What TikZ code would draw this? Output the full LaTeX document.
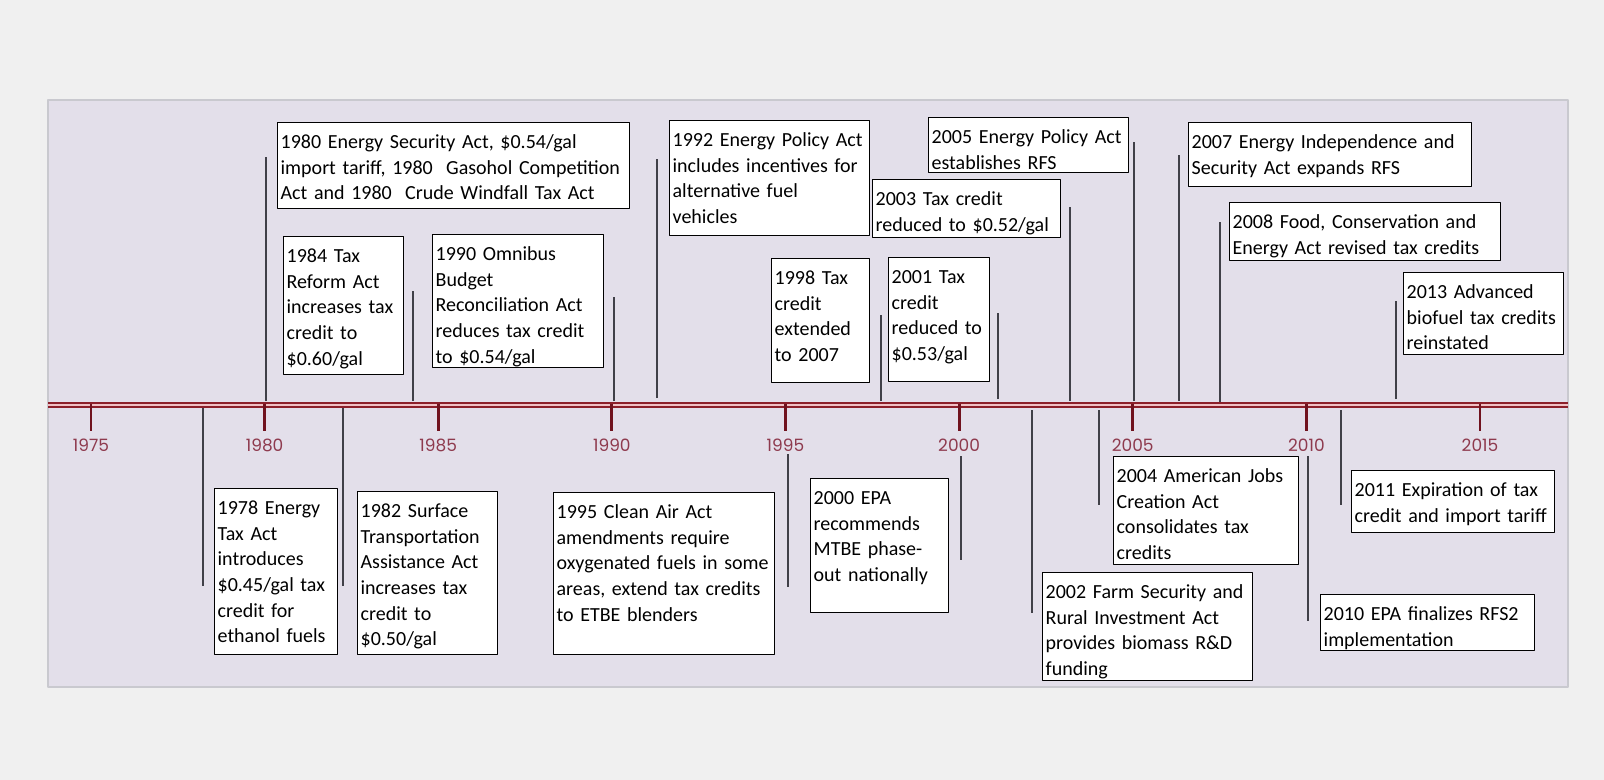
\documentclass[tikz,border=0pt]{standalone}
\usepackage{fontspec}
\setmainfont{Carlito}
\newfontfamily\yearfont{Poppins}
\definecolor{bggray}{HTML}{F0F0F0}
\definecolor{panel}{HTML}{E3DFEA}
\definecolor{panelline}{HTML}{C9C9CF}
\definecolor{linered}{HTML}{8C1F2A}
\definecolor{linepink}{HTML}{F0C0C4}
\definecolor{tickred}{HTML}{70121E}
\definecolor{yearred}{HTML}{8E3A4E}
\definecolor{stemgray}{HTML}{404048}
\begin{document}
\begin{tikzpicture}[x=0.5pt, y=-0.5pt, line join=round,
	evbox/.style={draw=black, line width=0.65pt, fill=white, anchor=north west, align=left,
		inner xsep=1.5pt, inner ysep=2pt, text height=11pt, font=\fontsize{10}{12.8}\selectfont},
	stem/.style={draw=stemgray, line width=0.8pt},
	yeartick/.style={draw=tickred, line width=1.4pt},
	yearlabel/.style={text=yearred, inner sep=0pt, font=\yearfont\fontsize{8.5}{10}\selectfont}]
	%%%%%%%%%%%%%%%%%%%%%%%%%%%%%%%%%
	\useasboundingbox (0,0) rectangle (1604,780);
	\fill[bggray] (0,0) rectangle (1604,780);
	\filldraw[fill=panel, draw=panelline, line width=0.6pt] (48,100) rectangle (1568,687);
	%%%%%%%%%%%%%%%%%%%%%%%%%%%%%%%%%
	\coordinate (L) at (48,405);
	\coordinate (R) at (1568,405);
	%%%%%%%%%%%%%%%%%%%%%%%%%%%%%%%%%
	% stems from the time line
	\foreach \ev/\xx/\ya/\yb in {1980/266/401/157, 1984/413/401/291, 1990/614/401/297,
		1992/657/398/159, 1998/881/401/315, 2001/998/399/313, 2003/1070/401/207,
		2005/1134/401/142, 2007/1179/401/155, 2008/1220/402/222, 2013/1396/399/301,
		1978/203/408/586, 1982/343/408/586, 1995/788/454/587, 2000/961/456/560,
		2002/1032/410/613, 2004/1099/410/505, 2010/1308/456/621, 2011/1341/410/505}
	{
		\coordinate (sa\ev) at (\xx,\ya);
		\coordinate (sb\ev) at (\xx,\yb);
		\draw[stem] (sa\ev) -- (sb\ev);
	}
	%%%%%%%%%%%%%%%%%%%%%%%%%%%%%%%%%
	\draw[linered, line width=3pt] (L) -- (R);
	\draw[linepink, line width=1pt] (L) -- (R);
	\foreach \yr [evaluate=\yr as \xx using 91+34.725*(\yr-1975)] in {1975,1980,...,2015}
	{
		\coordinate (k\yr) at (\xx,404);
		\coordinate (m\yr) at (\xx,431);
		\draw[yeartick] (k\yr) -- (m\yr);
		\node[yearlabel] (y\yr) at (\xx,445) {\yr};
	}
	%%%%%%%%%%%%%%%%%%%%%%%%%%%%%%%%%
	% above the line
	\node[evbox, text width=173pt, text depth=28pt] (e1980) at (277,122)
		{1980 Energy Security Act, \$0.54/gal\\import tariff, 1980~ Gasohol Competition\\Act and 1980~ Crude Windfall Tax Act};
	\node[evbox, text width=57pt, text depth=54pt] (e1984) at (283,236)
		{1984 Tax\\Reform Act\\increases tax\\credit to\\\$0.60/gal};
	\node[evbox, text width=82.5pt, text depth=51.5pt] (e1990) at (432,234)
		{1990 Omnibus\\Budget\\Reconciliation Act\\reduces tax credit\\to \$0.54/gal};
	\node[evbox, text width=97pt, text depth=42.5pt] (e1992) at (669,120)
		{1992 Energy Policy Act\\includes incentives for\\alternative fuel\\vehicles};
	\node[evbox, text width=46pt, text depth=47pt] (e1998) at (771,258)
		{1998 Tax\\credit\\extended\\to 2007};
	\node[evbox, text width=47.5pt, text depth=47pt] (e2001) at (888,257)
		{2001 Tax\\credit\\reduced to\\\$0.53/gal};
	\node[evbox, text width=91pt, text depth=14pt] (e2003) at (872,179)
		{2003 Tax credit\\reduced to \$0.52/gal};
	\node[evbox, text width=97pt, text depth=12.5pt] (e2005) at (928,117)
		{2005 Energy Policy Act\\establishes RFS};
	\node[evbox, text width=138.5pt, text depth=17pt] (e2007) at (1188,122)
		{2007 Energy Independence and\\Security Act expands RFS};
	\node[evbox, text width=132.5pt, text depth=14pt] (e2008) at (1229,202)
		{2008 Food, Conservation and\\Energy Act revised tax credits};
	\node[evbox, text width=77pt, text depth=26pt] (e2013) at (1403,272)
		{2013 Advanced\\biofuel tax credits\\reinstated};
	%%%%%%%%%%%%%%%%%%%%%%%%%%%%%%%%%
	% below the line
	\node[evbox, text width=58.5pt, text depth=68pt] (e1978) at (214,488)
		{1978 Energy\\Tax Act\\introduces\\\$0.45/gal tax\\credit for\\ethanol fuels};
	\node[evbox, text width=67pt, text depth=66.5pt] (e1982) at (357,491)
		{1982 Surface\\Transportation\\Assistance Act\\increases tax\\credit to\\\$0.50/gal};
	\node[evbox, text width=107.5pt, text depth=66pt] (e1995) at (553,492)
		{1995 Clean Air Act\\amendments require\\oxygenated fuels in some\\areas, extend tax credits\\to ETBE blenders};
	\node[evbox, text width=66pt, text depth=52pt] (e2000) at (810,478)
		{2000 EPA\\recommends\\MTBE phase-\\out nationally};
	\node[evbox, text width=102pt, text depth=39pt] (e2002) at (1042,572)
		{2002 Farm Security and\\Rural Investment Act\\provides biomass R\&D\\funding};
	\node[evbox, text width=89.5pt, text depth=39pt] (e2004) at (1113,456)
		{2004 American Jobs\\Creation Act\\consolidates tax\\credits};
	\node[evbox, text width=104pt, text depth=13pt] (e2010) at (1320,594)
		{2010 EPA finalizes RFS2\\implementation};
	\node[evbox, text width=98.5pt, text depth=16pt] (e2011) at (1351,470)
		{2011 Expiration of tax\\credit and import tariff};
	%%%%%%%%%%%%%%%%%%%%%%%%%%%%%%%%%
\end{tikzpicture}
\end{document}
